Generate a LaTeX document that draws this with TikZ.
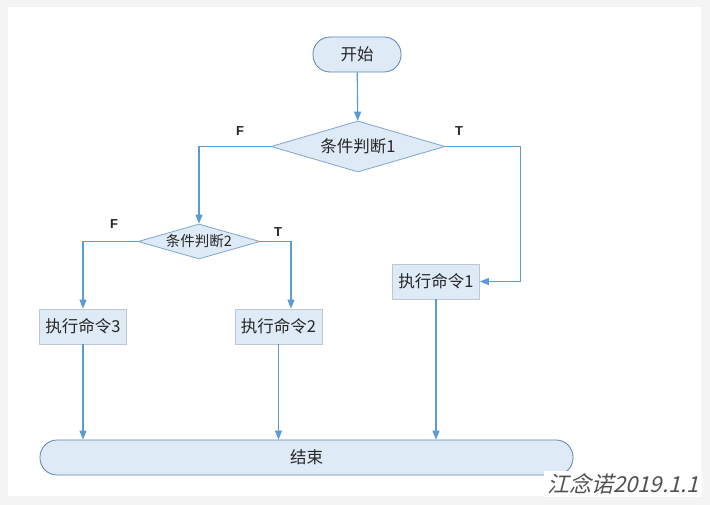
\documentclass[tikz,border=0pt]{standalone}
\usepackage{fontspec}
\setmainfont{Noto Sans CJK SC}
\newfontfamily\lblfont{Liberation Sans}
\newfontfamily\wmfont[FakeSlant=0.25]{Noto Sans CJK SC}
\usepackage{xcolor}
\definecolor{pagebg}{HTML}{F4F4F4}
\definecolor{boxfill}{HTML}{DEEAF6}
\definecolor{termline}{HTML}{5A84B4}
\definecolor{boxline}{HTML}{BFC8D2}
\definecolor{diamline}{HTML}{7FA6CF}
\definecolor{flowline}{HTML}{5B9BD5}
\definecolor{textdark}{HTML}{262626}
\usetikzlibrary{shapes.geometric,arrows.meta,calc}

\begin{document}
\begin{tikzpicture}[x=1pt, y=-1pt,
    term/.style={rectangle, rounded corners=17pt, draw=termline, fill=boxfill, text=textdark, minimum height=35pt, font=\fontsize{16.5}{19}\selectfont, line width=0.8pt},
    cmd/.style={rectangle, draw=boxline, fill=boxfill, text=textdark, minimum width=87pt, minimum height=35pt, font=\fontsize{16.5}{19}\selectfont, line width=0.8pt},
    cond/.style={diamond, draw=diamline, fill=boxfill, text=textdark, inner sep=0pt, line width=0.8pt},
    tf/.style={font=\lblfont\bfseries\fontsize{13}{15}\selectfont, text=textdark},
    flow/.style={draw=flowline, line width=1.1pt, -{Triangle[length=9pt,width=7pt]}}
  ]
    \useasboundingbox (0,0) rectangle (710,505);
    \fill[pagebg] (0,0) rectangle (710,505);
    \fill[white] (8,7) rectangle (701,496);

    \node[term, minimum width=88pt] (start) at (357,54.5) {开始};
    \node[cond, aspect=3.4, minimum width=174pt, minimum height=51pt, font=\fontsize{16.5}{19}\selectfont] (c1) at (358,146.5) {条件判断1};
    \node[cond, aspect=3.5, minimum width=122pt, minimum height=35pt, font=\fontsize{14.5}{17}\selectfont] (c2) at (199,241.5) {条件判断2};
    \node[cmd] (run1) at (436,281.5) {执行命令1};
    \node[cmd] (run2) at (278.5,326.5) {执行命令2};
    \node[cmd] (run3) at (83,326.5) {执行命令3};
    \node[term, minimum width=533pt] (stop) at (306.5,457.5) {结束};

    \node[tf] (f1) at (240,131) {F};
    \node[tf] (t1) at (459,131) {T};
    \node[tf] (f2) at (114,224) {F};
    \node[tf] (t2) at (278,232) {T};

    \draw[flow] (start) -- (c1);
    \draw[flow] (c1.west) -| (c2.north);
    \draw[flow] (c1.east) -| ($(run1.east)+(41,0)$) -- (run1.east);
    \draw[flow] (c2.west) -| (run3.north);
    \draw[flow] (c2.east) -| ($(run2.north)+(12.5,0)$);
    \draw[flow] (run3.south) -- (run3.south |- stop.north);
    \draw[flow] (run2.south) -- (run2.south |- stop.north);
    \draw[flow] (run1.south) -- (run1.south |- stop.north);

    \node[fill=white, inner sep=3pt, text=textdark!80, font=\wmfont\fontsize{22}{25}\selectfont] (mark) at (623,484) {江念诺2019.1.1};
  \end{tikzpicture}
\end{document}
